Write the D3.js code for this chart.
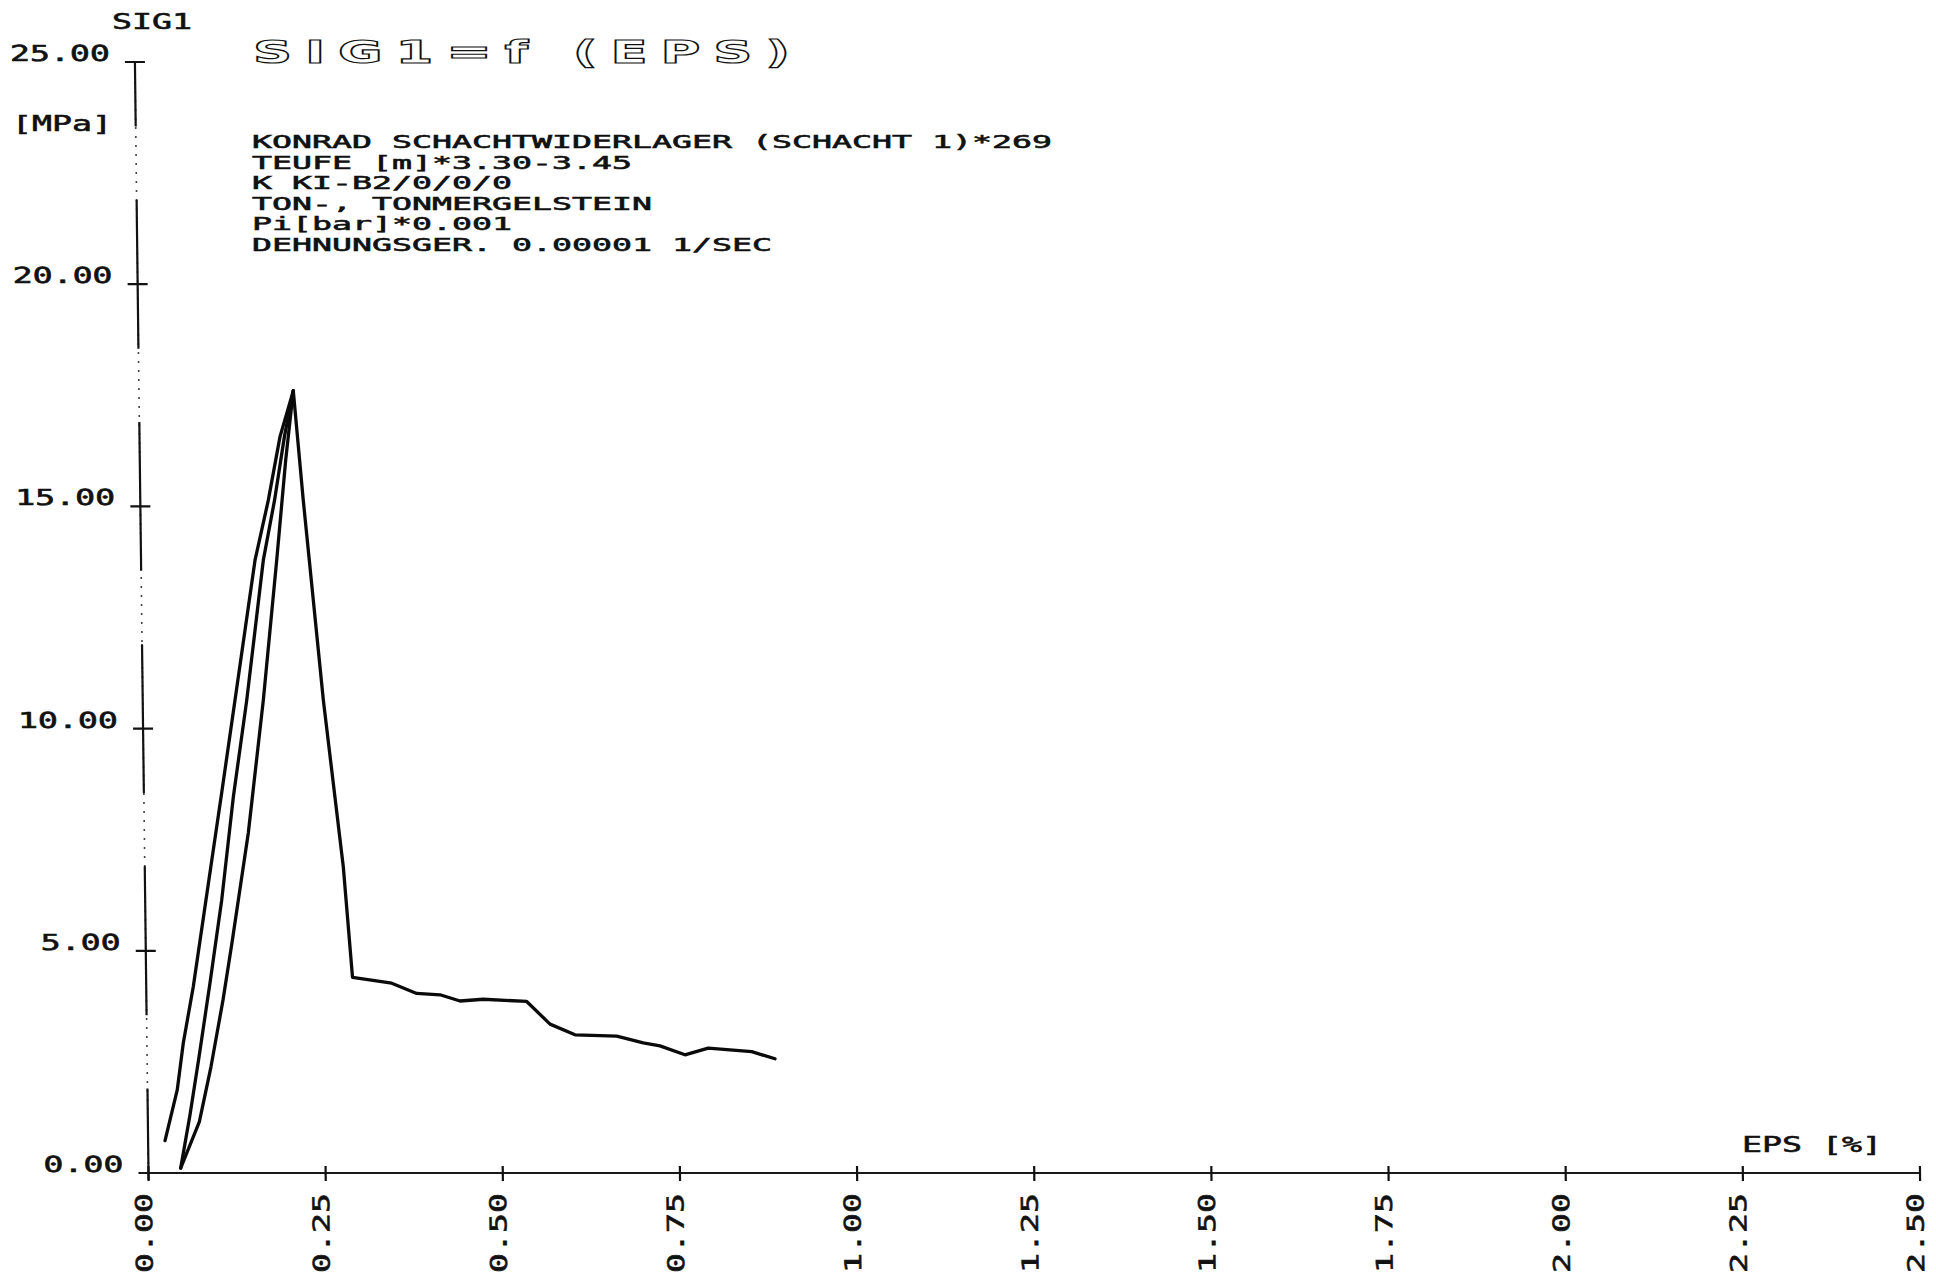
<!DOCTYPE html>
<html>
<head>
<meta charset="utf-8">
<script src="https://cdn.jsdelivr.net/npm/d3@7"></script>
<style>
  html, body { margin: 0; padding: 0; background: #ffffff; }
  svg { display: block; }
  .mono { font-family: "DejaVu Sans Mono", "Liberation Mono", monospace; fill: #111; stroke: #111; stroke-width: 0.6px; }
  .title { font-family: "DejaVu Sans", sans-serif; font-weight: bold; fill: #fff; stroke: #111; stroke-width: 1.6px; }
</style>
</head>
<body>
<svg id="chart" width="1936" height="1279"></svg>
<script>
// ---------------- DATA ----------------
const xTickValues = [0, 0.25, 0.5, 0.75, 1.0, 1.25, 1.5, 1.75, 2.0, 2.25, 2.5];
const xTickLabels = ["0.00", "0.25", "0.50", "0.75", "1.00", "1.25", "1.50", "1.75", "2.00", "2.25", "2.50"];
const yTickValues = [0, 5, 10, 15, 20, 25];
const yTickLabels = ["0.00", "5.00", "10.00", "15.00", "20.00", "25.00"];

// first loading branch (EPS [%], SIG1 [MPa])
const loadEps = [0.0239, 0.042, 0.0514, 0.0664, 0.0843, 0.0970, 0.1098, 0.1302, 0.1609, 0.1807, 0.1983, 0.2178];
const loadSig = [0.73, 1.87, 2.93, 4.19, 5.99, 7.27, 8.55, 10.64, 13.79, 15.14, 16.57, 17.60];
// unloading branch
const unloadEps = [0.2178, 0.2045, 0.1895, 0.1726, 0.1468, 0.1262, 0.1080, 0.0901, 0.0733, 0.0596, 0.0455];
const unloadSig = [17.60, 16.57, 15.14, 13.79, 10.64, 8.46, 6.14, 4.28, 2.61, 1.31, 0.11];
// reloading branch
const reloadEps = [0.0455, 0.0726, 0.0900, 0.1081, 0.1218, 0.1467, 0.1702, 0.1915, 0.2059, 0.2178];
const reloadSig = [0.11, 1.15, 2.39, 3.89, 5.18, 7.65, 10.64, 13.79, 16.04, 17.60];
// post-peak branch
const postEps = [0.2178, 0.2300, 0.2549, 0.2802, 0.2913, 0.3465, 0.3816, 0.4145, 0.4426, 0.4755, 0.5367, 0.5692, 0.6043, 0.6631, 0.7005, 0.7240, 0.7591, 0.7921, 0.8534, 0.8861];
const postSig = [17.60, 15.14, 10.64, 6.89, 4.40, 4.27, 4.04, 4.01, 3.87, 3.91, 3.86, 3.35, 3.11, 3.08, 2.93, 2.86, 2.66, 2.81, 2.73, 2.57];

const titleText = "SIG1=f (EPS)";
const infoLines = [
  "KONRAD SCHACHTWIDERLAGER (SCHACHT 1)*269",
  "TEUFE [m]*3.30-3.45",
  "K KI-B2/0/0/0",
  "TON-, TONMERGELSTEIN",
  "Pi[bar]*0.001",
  "DEHNUNGSGER. 0.00001 1/SEC"
];
const yAxisName = "SIG1";
const yAxisUnit = "[MPa]";
const xAxisName = "EPS [%]";

// ---------------- LAYOUT ----------------
const originX = 148.5, originY = 1173;
const plotW = 1771.5, plotH = 1111;
const skewDeg = 0.7;          // slight skew of the scanned plotter sheet
const pitch = 20;             // plotter character pitch
const svg = d3.select("#chart");

const x = d3.scaleLinear().domain([0, 2.5]).range([0, plotW]);
const y = d3.scaleLinear().domain([0, 25]).range([0, -plotH]);

const g = svg.append("g")
  .attr("transform", `translate(${originX},${originY}) skewX(${skewDeg})`);

function mono(sel, str, px, py, fs) {
  return sel.append("text")
    .attr("class", "mono")
    .attr("x", px).attr("y", py)
    .attr("font-size", fs)
    .attr("textLength", str.length * pitch)
    .attr("lengthAdjust", "spacingAndGlyphs")
    .text(str);
}

// ---- y axis: faint dotted line + solid segments around ticks
g.append("line")
  .attr("x1", 0).attr("x2", 0)
  .attr("y1", y(0)).attr("y2", y(25))
  .attr("stroke", "#444").attr("stroke-width", 1.6)
  .attr("stroke-dasharray", "2,7");
yTickValues.forEach(v => {
  const a = Math.max(0, v - 1.45), b = Math.min(25, v + 1.9);
  g.append("line")
    .attr("x1", 0).attr("x2", 0)
    .attr("y1", y(a) + (v === 0 ? 7 : 0)).attr("y2", y(b))
    .attr("stroke", "#111").attr("stroke-width", 2.2);
});
// y ticks
g.selectAll(".ytick").data(yTickValues).enter().append("line")
  .attr("x1", -10).attr("x2", 10)
  .attr("y1", d => y(d)).attr("y2", d => y(d))
  .attr("stroke", "#111").attr("stroke-width", 2.2);
// y tick labels
yTickValues.forEach((v, i) => {
  const s = yTickLabels[i];
  mono(g, s, -27 - s.length * pitch + 2, y(v) - 1, 22);
});

// ---- x axis
g.append("line")
  .attr("x1", -8).attr("x2", x(2.5))
  .attr("y1", 0).attr("y2", 0)
  .attr("stroke", "#1a1a1a").attr("stroke-width", 2);
g.selectAll(".xtick").data(xTickValues).enter().append("line")
  .attr("x1", d => x(d)).attr("x2", d => x(d))
  .attr("y1", -7).attr("y2", 8)
  .attr("stroke", "#111").attr("stroke-width", 2.2);
xTickValues.forEach((v, i) => {
  const s = xTickLabels[i];
  g.append("text")
    .attr("class", "mono")
    .attr("transform", `translate(${x(v) + 3},${100}) rotate(-90)`)
    .attr("x", 0).attr("y", 0)
    .attr("font-size", 23)
    .attr("textLength", s.length * pitch)
    .attr("lengthAdjust", "spacingAndGlyphs")
    .text(s);
});

// ---- curves
const line = d3.line().x(d => x(d[0])).y(d => y(d[1]));
const branches = [
  d3.zip(loadEps, loadSig),
  d3.zip(unloadEps, unloadSig),
  d3.zip(reloadEps, reloadSig),
  d3.zip(postEps, postSig)
];
g.selectAll(".branch").data(branches).enter().append("path")
  .attr("d", line)
  .attr("fill", "none")
  .attr("stroke", "#0a0a0a")
  .attr("stroke-width", 3.3)
  .attr("stroke-linejoin", "round")
  .attr("stroke-linecap", "round");

// ---- axis names
mono(svg, yAxisName, 112, 29, 22);
mono(svg, yAxisUnit, 12, 131, 22);
mono(svg, xAxisName, 1742, 1152, 22);

// ---- title (outlined plotter lettering)
const titleScale = 1.7;
svg.append("text")
  .attr("class", "title")
  .attr("transform", `translate(253,63) scale(${titleScale},1)`)
  .attr("x", 0).attr("y", 0)
  .attr("font-size", 32)
  .attr("textLength", 537 / titleScale)
  .attr("lengthAdjust", "spacing")
  .attr("vector-effect", "non-scaling-stroke")
  .text(titleText);

// ---- info block
infoLines.forEach((s, i) => {
  mono(svg, s, 252, 148 + i * 20.6, 18.5);
});
</script>
</body>
</html>
